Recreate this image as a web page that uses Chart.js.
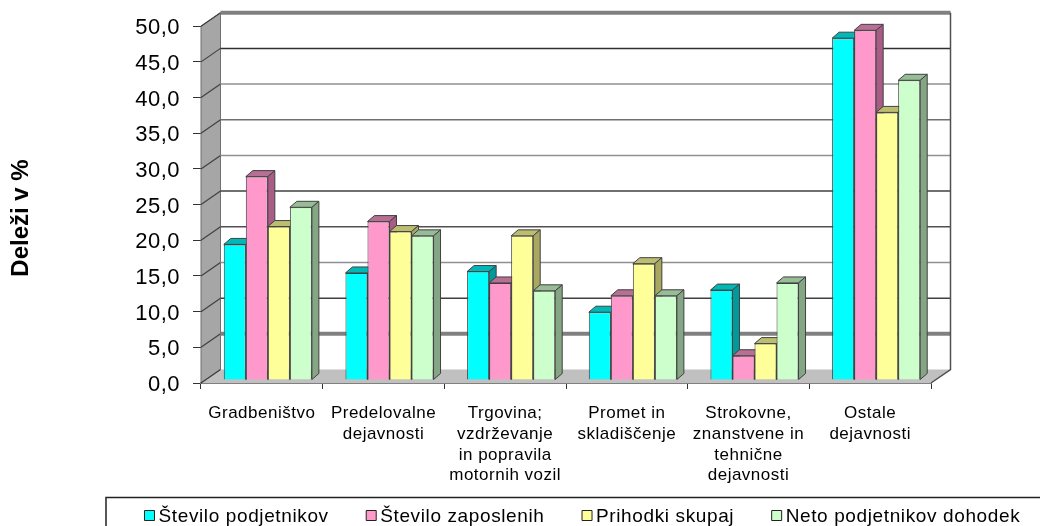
<!DOCTYPE html>
<html>
<head>
<meta charset="utf-8">
<script src="https://cdn.jsdelivr.net/npm/chart.js@4"></script>
<style>
  html, body { margin: 0; padding: 0; background: #fff; }
  #wrap { width: 1040px; height: 526px; }
</style>
</head>
<body>
<div id="wrap"><canvas id="chart" width="1040" height="526"></canvas></div>
<script>
const categories = [
    'Gradbeništvo',
    ['Predelovalne', 'dejavnosti'],
    ['Trgovina;', 'vzdrževanje', 'in popravila', 'motornih vozil'],
    ['Promet in', 'skladiščenje'],
    ['Strokovne,', 'znanstvene in', 'tehnične', 'dejavnosti'],
    ['Ostale', 'dejavnosti']
];
const seriesNames = ['Število podjetnikov', 'Število zaposlenih', 'Prihodki skupaj', 'Neto podjetnikov dohodek'];
const podjetniki = [19.0, 15.0, 15.2, 9.5, 12.6, 47.9];
const zaposleni = [28.5, 22.2, 13.6, 11.8, 3.4, 49.0];
const prihodki = [21.5, 20.8, 20.2, 16.3, 5.1, 37.5];
const dohodek = [24.2, 20.2, 12.5, 11.8, 13.6, 42.0];
const axisTitle = 'Deleži v %';

const frontColors = ['#00ffff', '#ff99cc', '#ffff99', '#ccffcc'];
const topColors = ['#00b8b8', '#b86f94', '#bdbd70', '#97bd97'];
const sideColors = ['#009a9a', '#a85c86', '#a8a860', '#84a684'];
// the wall lines come out in different greys in the original, one per tick from 0 up
const gridColors = ['#808080', '#808080', '#404040', '#909090', '#505050', '#404040', '#909090', '#707070', '#909090', '#303030', '#808080'];

// depth of the fake 3D box and of the bars inside it
const wallDx = 19.5, wallDy = 13.5;
const barDx = 7, barDy = 6;
const barShiftX = 6, barShiftY = -3;

function poly(ctx, pts, fill, stroke) {
    ctx.beginPath();
    pts.forEach((p, i) => i ? ctx.lineTo(p[0], p[1]) : ctx.moveTo(p[0], p[1]));
    ctx.closePath();
    ctx.fillStyle = fill;
    ctx.fill();
    if (stroke) {
        ctx.strokeStyle = stroke;
        ctx.lineWidth = 1;
        ctx.stroke();
    }
}

function drawWalls(chart) {
    const { ctx, chartArea: a, scales } = chart;
    const l = a.left, r = a.right, b = a.bottom, t = a.top;
    ctx.save();
    poly(ctx, [[l, b], [l + wallDx, b - wallDy], [r + wallDx, b - wallDy], [r, b]], '#c0c0c0');
    poly(ctx, [[l, t], [l + wallDx, t - wallDy], [l + wallDx, b - wallDy], [l, b]], '#a6a6a6', '#707070');
    scales.y.ticks.forEach((tick, i) => {
        const y = scales.y.getPixelForTick(i);
        ctx.beginPath();
        ctx.moveTo(l, y);
        ctx.lineTo(l + wallDx, y - wallDy);
        ctx.strokeStyle = '#404040';
        ctx.lineWidth = 1.2;
        ctx.stroke();
        ctx.beginPath();
        ctx.moveTo(l + wallDx, y - wallDy);
        ctx.lineTo(r + wallDx, y - wallDy);
        ctx.strokeStyle = gridColors[i];
        ctx.lineWidth = (i === 1 || i === 10) ? 4 : 1.5;
        if (i > 0) ctx.stroke();
    });
    ctx.beginPath();
    ctx.moveTo(r + wallDx, t - wallDy);
    ctx.lineTo(r + wallDx, b - wallDy);
    ctx.lineTo(r, b);
    ctx.strokeStyle = '#505050';
    ctx.lineWidth = 1.5;
    ctx.stroke();
    ctx.restore();
}

const box3d = {
    id: 'box3d',
    beforeDraw(chart) {
        chart.ctx.letterSpacing = '0.5px';
    },
    beforeDatasetsDraw(chart) {
        const { ctx } = chart;
        drawWalls(chart);
        // bars stand a little behind the front plane, and have to be painted
        // left to right so a bar covers the side of the one before it
        ctx.save();
        ctx.translate(barShiftX, barShiftY);
        chart.getSortedVisibleDatasetMetas().forEach(meta => {
            const i = meta.index;
            meta.data.forEach(bar => {
                const p = bar.getProps(['x', 'y', 'base', 'width']);
                const x0 = p.x - p.width / 2, x1 = p.x + p.width / 2;
                poly(ctx, [[x0, p.y], [x0 + barDx, p.y - barDy], [x1 + barDx, p.y - barDy], [x1, p.y]], topColors[i], '#404040');
                poly(ctx, [[x1, p.y], [x1 + barDx, p.y - barDy], [x1 + barDx, p.base - barDy], [x1, p.base]], sideColors[i], '#404040');
            });
            meta.controller.draw();
        });
        ctx.restore();
        return false;
    },
    afterDraw(chart) {
        const { ctx } = chart;
        ctx.save();
        ctx.strokeStyle = '#222222';
        ctx.lineWidth = 1.5;
        ctx.strokeRect(106, 497.5, 960, 60);
        ctx.letterSpacing = '0.62px';
        ctx.font = '19px "Liberation Sans"';
        ctx.textBaseline = 'middle';
        let x = 144.5;
        seriesNames.forEach((name, i) => {
            poly(ctx, [[x, 510.5], [x + 10, 510.5], [x + 10, 520.5], [x, 520.5]], frontColors[i], '#222222');
            ctx.fillStyle = '#000000';
            ctx.fillText(name, x + 14, 517);
            x += 14 + ctx.measureText(name).width + 37.5;
        });
        // axis title sits lower than the middle of the axis
        ctx.letterSpacing = '0px';
        ctx.font = 'bold 24px "Liberation Sans"';
        ctx.textAlign = 'center';
        ctx.translate(21, 218);
        ctx.rotate(-Math.PI / 2);
        ctx.fillText(axisTitle, 0, 0);
        ctx.restore();
    }
};

const values = [podjetniki, zaposleni, prihodki, dohodek];

new Chart(document.getElementById('chart'), {
    type: 'bar',
    data: {
        labels: categories,
        datasets: seriesNames.map((name, i) => ({
            label: name,
            data: values[i],
            backgroundColor: frontColors[i],
            borderColor: '#404040',
            borderWidth: 1
        }))
    },
    options: {
        responsive: false,
        animation: false,
        layout: { padding: { top: 26, right: 109 } },
        categoryPercentage: 0.724,
        barPercentage: 1,
        plugins: {
            legend: { display: false },
            tooltip: { enabled: false }
        },
        scales: {
            x: {
                afterFit(scale) { scale.height = 143; },
                grid: { drawOnChartArea: false, tickLength: 6, color: '#333333' },
                border: { color: '#808080', width: 2 },
                ticks: { maxRotation: 0, autoSkip: false, padding: 14, color: '#000', font: { family: 'Liberation Sans', size: 17, lineHeight: 1.22 } }
            },
            y: {
                min: 0,
                max: 50,
                afterFit(scale) { scale.width = 201; },
                grid: { drawOnChartArea: false, tickLength: 8, color: '#333333' },
                border: { color: '#555555' },
                ticks: {
                    stepSize: 5,
                    padding: 13,
                    labelOffset: 2,
                    color: '#000',
                    font: { family: 'Liberation Sans', size: 22 },
                    callback: v => v.toFixed(1).replace('.', ',')
                }
            }
        }
    },
    plugins: [box3d]
});
</script>
</body>
</html>
